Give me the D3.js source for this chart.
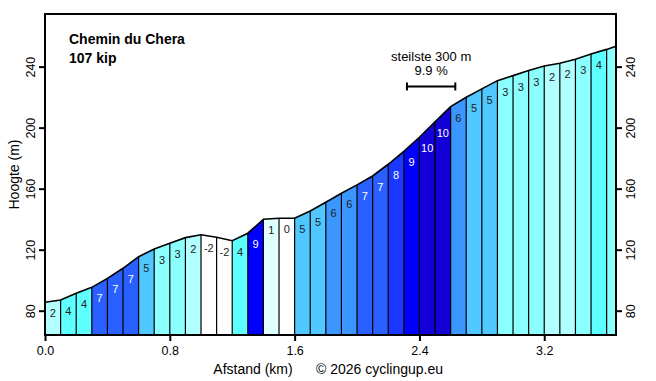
<!DOCTYPE html>
<html>
<head>
<meta charset="utf-8">
<script src="https://cdn.jsdelivr.net/npm/d3@7"></script>
<style>
html,body{margin:0;padding:0;background:#fff;}
svg{display:block;font-family:"Liberation Sans",Arial,sans-serif;}
</style>
</head>
<body>
<svg id="chart" width="656" height="381"></svg>
<script>
// ---- data ----
const distances = [0,0.1,0.2,0.3,0.4,0.5,0.6,0.7,0.8,0.9,1.0,1.1,1.2,1.3,1.4,1.5,1.6,1.7,1.8,1.9,2.0,2.1,2.2,2.3,2.4,2.5,2.6,2.7,2.8,2.9,3.0,3.1,3.2,3.3,3.4,3.5,3.6,3.66];
const elevations = [85.5,87.0,91.4,95.3,101.2,107.8,115.4,120.4,124.2,127.9,129.8,128.1,125.9,130.8,139.9,140.6,140.6,145.4,151.1,157.0,162.5,168.3,176.0,184.4,193.7,203.9,213.8,219.9,225.4,230.8,234.1,237.4,240.4,242.2,244.8,248.3,251.3,253.4];
const gradeLabels = [2,4,4,7,7,7,5,3,3,2,-2,-2,4,9,1,0,5,5,6,6,7,7,8,9,10,10,6,5,5,3,3,3,2,2,3,4,null];
const gradeColors = {"-2":"#ffffff","0":"#ffffff","1":"#e0ffff","2":"#b2ffff","3":"#8cffff","4":"#5effff","5":"#50c8ff","6":"#3c96ff","7":"#2a60ff","8":"#1a38ff","9":"#0000ff","10":"#1200d6"};
const xTicks = [0.0,0.8,1.6,2.4,3.2];
const yTicks = [80,120,160,200,240];
const title = "Chemin du Chera";
const subtitle = "107 kip";
const steepText = ["steilste 300 m","9.9 %"];
const steepRange = [2.32,2.63];
const steepY = 227;

// ---- layout ----
const L = 45, R = 616, T = 14, B = 335;
const svg = d3.select("#chart");
const x = d3.scaleLinear().domain([0, 3.66]).range([L, R]);
const y = d3.scaleLinear().domain([64.07, 274.5]).range([B, T]);

const segs = gradeLabels.map((g, i) => ({
  x0: distances[i], x1: distances[i+1], e0: elevations[i], e1: elevations[i+1], label: g,
  grade: g !== null ? g : Math.round((elevations[i+1]-elevations[i])/((distances[i+1]-distances[i])*10))
}));

// segment fills
svg.append("g").selectAll("path").data(segs).join("path")
  .attr("d", d => `M${x(d.x0)},${B}L${x(d.x0)},${y(d.e0)}L${x(d.x1)},${y(d.e1)}L${x(d.x1)},${B}Z`)
  .attr("fill", d => gradeColors[String(d.grade)] || "#ffffff")
  .attr("stroke", "none");

// vertical separators
svg.append("g").selectAll("line").data(distances.slice(1, -1).map((d, i) => ({d, e: elevations[i+1]})))
  .join("line")
  .attr("x1", d => x(d.d)).attr("x2", d => x(d.d))
  .attr("y1", B).attr("y2", d => y(d.e))
  .attr("stroke", "#000").attr("stroke-width", 1.2);

// profile line
svg.append("path")
  .datum(distances.map((d, i) => [d, elevations[i]]))
  .attr("d", d3.line().x(d => x(d[0])).y(d => y(d[1])))
  .attr("fill", "none").attr("stroke", "#000").attr("stroke-width", 1.6);

// segment labels
svg.append("g").selectAll("text").data(segs.filter(d => d.label !== null))
  .join("text")
  .attr("x", d => x((d.x0 + d.x1) / 2))
  .attr("y", d => y(Math.min(d.e0, d.e1)) + 15)
  .attr("text-anchor", "middle")
  .attr("font-size", 11)
  .attr("fill", d => d.grade >= 7 ? "#ffffff" : "#222222")
  .text(d => d.label);

// frame
svg.append("rect").attr("x", L).attr("y", T).attr("width", R - L).attr("height", B - T)
  .attr("fill", "none").attr("stroke", "#000").attr("stroke-width", 2);

// axes
const fmtX = d3.format(".1f");
const gx = svg.append("g").attr("transform", `translate(0,${B})`)
  .call(d3.axisBottom(x).tickValues(xTicks).tickFormat(fmtX).tickSize(6).tickPadding(5));
const gl = svg.append("g").attr("transform", `translate(${L},0)`)
  .call(d3.axisLeft(y).tickValues(yTicks).tickSize(6).tickPadding(0));
const gr = svg.append("g").attr("transform", `translate(${R},0)`)
  .call(d3.axisRight(y).tickValues(yTicks).tickSize(6).tickPadding(0));
[gx, gl, gr].forEach(g => {
  g.select(".domain").remove();
  g.selectAll(".tick line").attr("stroke", "#000").attr("stroke-width", 2);
  g.selectAll(".tick text").attr("font-size", 12.5).attr("fill", "#000")
    .attr("font-family", "Liberation Sans, Arial, sans-serif");
});
gl.selectAll(".tick text").attr("text-anchor", "middle").attr("dy", null)
  .attr("x", 0).attr("y", 0)
  .attr("transform", "translate(-9,0) rotate(-90)").attr("dy", "-0.1em");
gr.selectAll(".tick text").attr("text-anchor", "middle").attr("dy", null)
  .attr("x", 0).attr("y", 0)
  .attr("transform", "translate(20,0) rotate(-90)").attr("dy", "-0.1em");

// axis titles
svg.append("text").attr("x", 253).attr("y", 374).attr("text-anchor", "middle")
  .attr("font-size", 14).text("Afstand (km)");
svg.append("text").attr("x", 316).attr("y", 374).attr("text-anchor", "start")
  .attr("font-size", 14).text("© 2026 cyclingup.eu");
svg.append("text").attr("transform", `translate(19,${(T + B) / 2}) rotate(-90)`)
  .attr("text-anchor", "middle").attr("font-size", 14).text("Hoogte (m)");

// title
svg.append("text").attr("x", 69).attr("y", 44).attr("font-size", 14).attr("font-weight", "bold").text(title);
svg.append("text").attr("x", 69).attr("y", 63).attr("font-size", 14).attr("font-weight", "bold").text(subtitle);

// steepest annotation
const sx0 = x(steepRange[0]), sx1 = x(steepRange[1]), sy = y(steepY);
const cx = (sx0 + sx1) / 2;
svg.append("text").attr("x", cx).attr("y", sy - 25).attr("text-anchor", "middle").attr("font-size", 13).text(steepText[0]);
svg.append("text").attr("x", cx).attr("y", sy - 11).attr("text-anchor", "middle").attr("font-size", 13).text(steepText[1]);
svg.append("line").attr("x1", sx0).attr("x2", sx1).attr("y1", sy).attr("y2", sy).attr("stroke", "#000").attr("stroke-width", 2);
[sx0, sx1].forEach(v => svg.append("line").attr("x1", v).attr("x2", v).attr("y1", sy - 4).attr("y2", sy + 4).attr("stroke", "#000").attr("stroke-width", 2));
</script>
</body>
</html>
